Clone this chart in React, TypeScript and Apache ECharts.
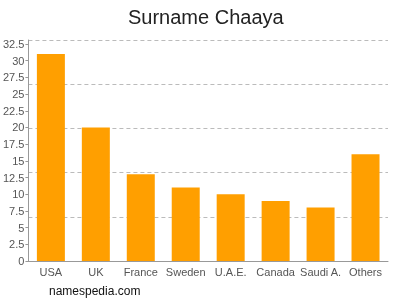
import React, { useEffect, useRef } from "react";
import * as echarts from "echarts";

const categories = ["USA", "UK", "France", "Sweden", "U.A.E.", "Canada", "Saudi A.", "Others"];
const values = [31, 20, 13, 11, 10, 9, 8, 16];
const tickLabels = [0, 2.5, 5, 7.5, 10, 12.5, 15, 17.5, 20, 22.5, 25, 27.5, 30, 32.5];
const axisMax = 33.1;
const gridStep = 6.62;

export default function App() {
  const ref = useRef<HTMLDivElement>(null);
  useEffect(() => {
    if (!ref.current) return;
    const chart = echarts.init(ref.current, null, { renderer: "svg" });
    const font = "Liberation Sans, Arial, sans-serif";
    chart.setOption({
      animation: false,
      title: {
        text: "Surname Chaaya",
        left: 123,
        top: 2,
        textStyle: { fontFamily: font, fontSize: 20, fontWeight: "normal", color: "#222" },
      },
      graphic: [
        {
          type: "text",
          left: 49,
          top: 285,
          style: { text: "namespedia.com", font: `12px ${font}`, fill: "#111" },
        },
      ],
      grid: { left: 28, right: 12, top: 40, bottom: 39, containLabel: false },
      xAxis: {
        type: "category",
        data: categories,
        axisLine: { lineStyle: { color: "#999" } },
        axisTick: { show: false },
        axisLabel: { color: "#555", fontFamily: font, fontSize: 11, margin: 5, interval: 0 },
      },
      yAxis: [
        {
          type: "value",
          min: 0,
          max: axisMax,
          axisLine: { show: true, lineStyle: { color: "#999" } },
          axisTick: { show: true, length: 3, lineStyle: { color: "#999" }, customValues: tickLabels },
          axisLabel: { color: "#555", fontFamily: font, fontSize: 11, margin: 4, customValues: tickLabels },
          splitLine: { show: false },
        },
        {
          type: "value",
          min: 0,
          max: axisMax,
          interval: gridStep,
          position: "left",
          axisLine: { show: false },
          axisTick: { show: false },
          axisLabel: { show: false },
          splitLine: {
            show: true,
            lineStyle: { color: "#bbb", type: [4, 3], width: 1 },
          },
        },
      ],
      series: [
        {
          type: "bar",
          data: values,
          barWidth: 28,
          itemStyle: { color: "#ff9f00" },
          yAxisIndex: 0,
        },
      ],
    });
    return () => chart.dispose();
  }, []);
  return <div ref={ref} style={{ position: "fixed", left: 0, top: 0, width: 400, height: 300 }} />;
}
